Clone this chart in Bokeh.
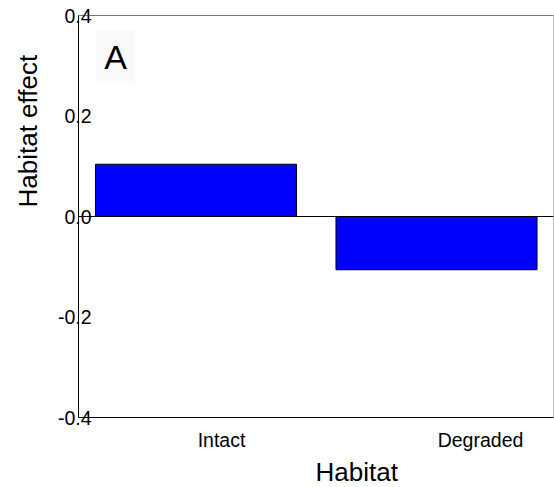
from bokeh.plotting import figure
from bokeh.models import (ColumnDataSource, FixedTicker, Range1d, Span, Label, Title)
from bokeh.embed import file_html
from bokeh.resources import INLINE

# ---- data ----
categories = ["Intact", "Degraded"]
habitat_effect = [0.104, -0.106]
ytick_values = [-0.4, -0.2, 0.0, 0.2, 0.4]
ytick_labels = ["-0.4", "-0.2", "0.0", "0.2", "0.4"]
x_title = "Habitat"
y_title = "Habitat effect"
panel_letter = "A"

# ---- layout constants ----
FONT = "Liberation Sans"
label_shift = [0.106, 0.183]   # tick labels sit right of bar centres

xpos = list(range(len(categories)))
src = ColumnDataSource(dict(x=xpos, y=habitat_effect, cat=categories))

p = figure(width=554, height=487, output_backend="svg", toolbar_location=None,
           x_range=Range1d(-0.4886, 1.4865), y_range=Range1d(-0.4, 0.4),
           min_border_left=78, min_border_right=1, min_border_top=15,
           min_border_bottom=70)
p.background_fill_color = "white"
p.border_fill_color = "white"
p.outline_line_color = "#bbbbbb"
p.grid.visible = False

p.vbar(x="x", top="y", bottom=0, width=0.836, source=src,
       fill_color="#0000ff", line_color="black", line_width=1)

p.add_layout(Span(location=0, dimension="width", line_color="black", line_width=1))
p.add_layout(Span(location=0.4, dimension="width", line_color="#333333", line_width=1))

# y axis
ya = p.yaxis[0]
ya.ticker = FixedTicker(ticks=ytick_values)
ya.major_label_overrides = {v: l for v, l in zip(ytick_values, ytick_labels)}
ya.major_tick_line_color = None
ya.minor_tick_line_color = None
ya.axis_line_color = "black"
ya.major_label_text_font = FONT
ya.major_label_text_font_size = "19.5px"
ya.major_label_text_color = "black"
ya.major_label_standoff = -19

# x axis
xa = p.xaxis[0]
ticks = [xi + s for xi, s in zip(xpos, label_shift)]
xa.ticker = FixedTicker(ticks=ticks)
xa.major_label_overrides = {t: c for t, c in zip(ticks, categories)}
xa.major_tick_line_color = None
xa.minor_tick_line_color = None
xa.axis_line_color = "black"
xa.major_label_text_font = FONT
xa.major_label_text_font_size = "19.5px"
xa.major_label_text_color = "black"
xa.major_label_standoff = 5

# axis titles
p.add_layout(Title(text=x_title, align="left", offset=237, text_font=FONT,
                   text_font_size="26px", text_font_style="normal",
                   text_color="black", standoff=2), "below")
p.add_layout(Title(text=y_title, align="left", offset=210, text_font=FONT,
                   text_font_size="26px", text_font_style="normal",
                   text_color="black", standoff=20, vertical_align="top"), "left")

# panel letter
p.add_layout(Label(x=37, y=361, x_units="screen", y_units="screen", text=panel_letter,
                   text_font=FONT, text_font_size="34px", text_align="center",
                   text_baseline="middle", text_color="black",
                   background_fill_color="#fafafa", padding=8))

open("out.html", "w").write(file_html(p, INLINE))
